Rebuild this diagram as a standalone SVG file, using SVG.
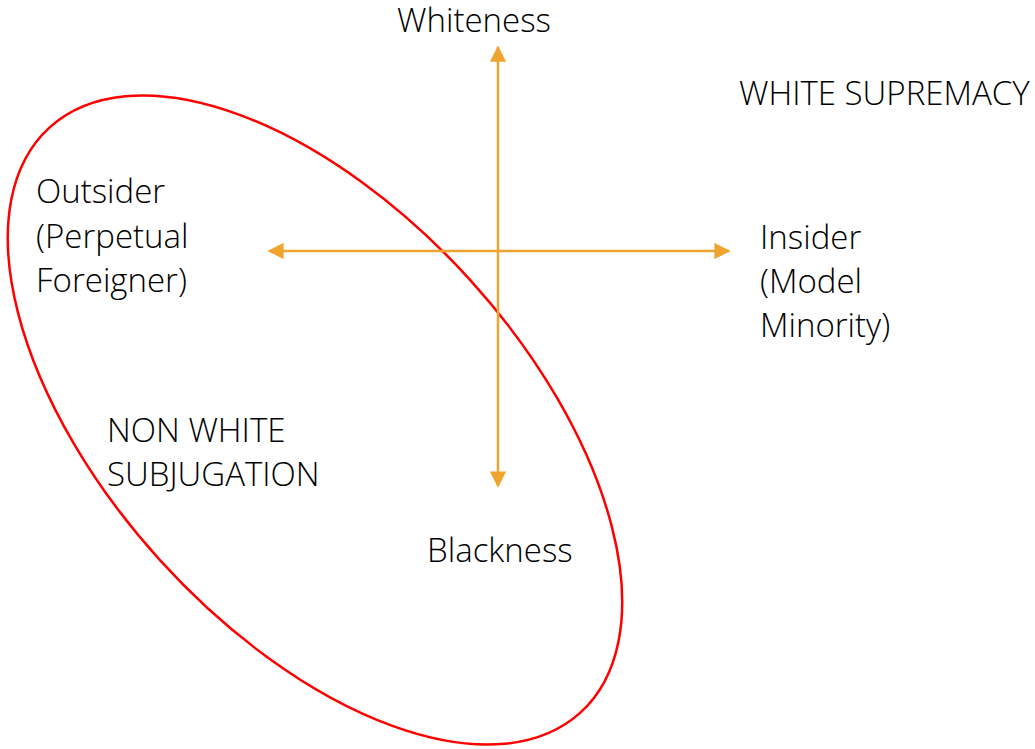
<svg xmlns="http://www.w3.org/2000/svg" width="1035" height="749" viewBox="0 0 1035 749">
<style>
text{font-family:"Open Sans","Liberation Sans",sans-serif;font-weight:300;font-size:33px;fill:#000}
.ax{stroke:#F0A430;stroke-width:2.5;fill:none}
</style>
<defs>
<marker id="ah" viewBox="0 0 10 10" refX="9" refY="5" markerWidth="6.5" markerHeight="6.5" markerUnits="strokeWidth" orient="auto">
<path d="M0,0 L10,5 L0,10 Z" fill="#F0A430"/>
</marker>
</defs>
<rect width="1035" height="749" fill="#fff"/>
<g id="ellipse-node">
<ellipse cx="315" cy="420" rx="395" ry="209" transform="rotate(47.8 315 420)" fill="none" stroke="#FF0000" stroke-width="2.5"/>
</g>
<g id="connectors">
<line class="ax" x1="498" y1="252" x2="498" y2="47" marker-end="url(#ah)"/>
<line class="ax" x1="498" y1="252" x2="498" y2="486" marker-end="url(#ah)"/>
<line class="ax" x1="498" y1="251" x2="269" y2="251" marker-end="url(#ah)"/>
<line class="ax" x1="498" y1="251" x2="729" y2="251" marker-end="url(#ah)"/>
</g>
<g id="whiteness"><text x="397" y="32">Whiteness</text></g>
<g id="white-supremacy"><text x="739" y="105">WHITE SUPREMACY</text></g>
<g id="outsider"><text x="36" y="203">Outsider</text><text x="36" y="248">(Perpetual</text><text x="36" y="292">Foreigner)</text></g>
<g id="insider"><text x="760" y="249">Insider</text><text x="760" y="293">(Model</text><text x="760" y="337">Minority)</text></g>
<g id="non-white"><text x="107" y="442">NON WHITE</text><text x="107" y="486">SUBJUGATION</text></g>
<g id="blackness"><text x="427" y="562">Blackness</text></g>
</svg>
